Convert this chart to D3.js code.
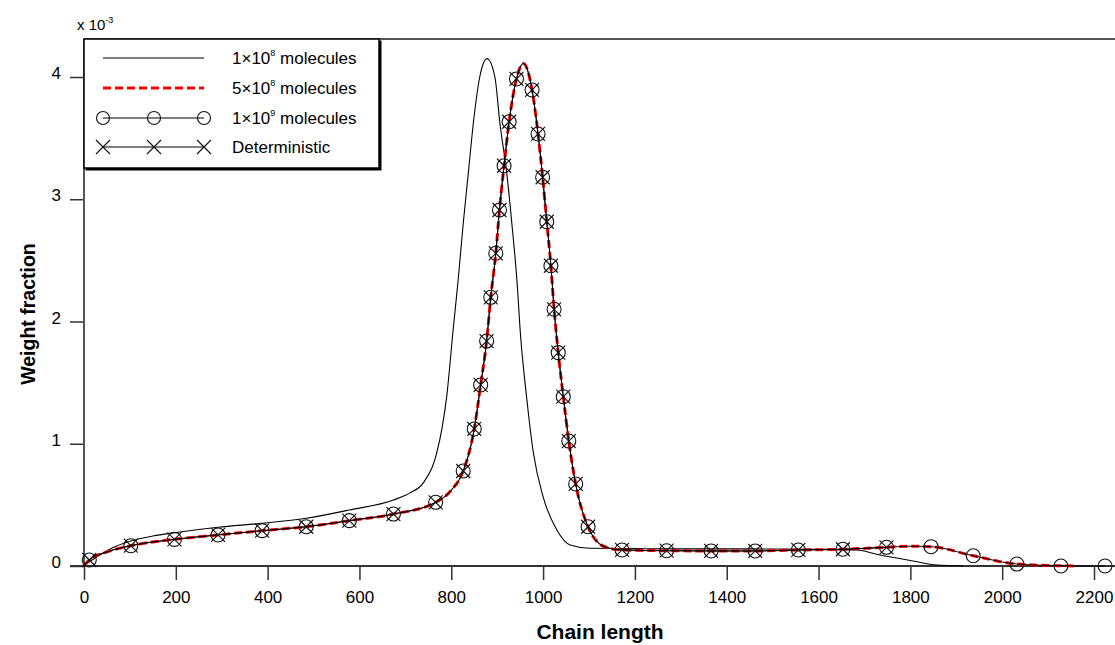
<!DOCTYPE html>
<html>
<head>
<meta charset="utf-8">
<script src="https://cdn.jsdelivr.net/npm/d3@7"></script>
<style>
    body { margin: 0; background: #fff; }
    svg text { font-family: "Liberation Sans", Arial, sans-serif; }
</style>
</head>
<body>
<svg id="chart"></svg>
<script>
// 1x10^8 molecules (thin black line), values in units of 1e-3
const len1e8 = [0, 30, 60, 102, 150, 197, 292, 388, 484, 578, 674, 710, 739, 768, 780, 790, 804, 815, 826, 837, 848, 862, 878, 895, 906, 921, 932, 944, 950, 964, 979, 1000, 1030, 1059, 1102, 1200, 1300, 1400, 1516, 1600, 1683, 1734, 1806, 1857, 1915];
const frac1e8 = [0.005, 0.08, 0.145, 0.205, 0.245, 0.272, 0.317, 0.349, 0.39, 0.458, 0.54, 0.598, 0.68, 0.922, 1.13, 1.385, 1.93, 2.34, 2.80, 3.21, 3.62, 4.00, 4.15, 4.00, 3.62, 3.21, 2.80, 2.285, 1.93, 1.385, 0.922, 0.567, 0.294, 0.172, 0.145, 0.142, 0.14, 0.14, 0.139, 0.137, 0.131, 0.09, 0.041, 0.008, 0];

// curve shared by 5x10^8, 1x10^9 and deterministic
const lenSim = [0, 11.5, 50, 102, 197, 292, 388, 484, 578, 674, 766, 800, 826, 850, 864, 877, 886, 897, 905, 915, 926, 942, 957, 976, 989, 999, 1008, 1017, 1024, 1033, 1044, 1056, 1071, 1098, 1120, 1145, 1172, 1269, 1366, 1462, 1556, 1653, 1748, 1800, 1845, 1937, 2032, 2128, 2160, 2224];
const fracSim = [0.005, 0.049, 0.115, 0.166, 0.218, 0.254, 0.289, 0.321, 0.371, 0.425, 0.521, 0.62, 0.777, 1.121, 1.481, 1.84, 2.198, 2.558, 2.912, 3.274, 3.634, 3.984, 4.11, 3.894, 3.534, 3.18, 2.816, 2.456, 2.1, 1.745, 1.385, 1.022, 0.671, 0.321, 0.19, 0.145, 0.131, 0.125, 0.123, 0.123, 0.131, 0.137, 0.153, 0.162, 0.158, 0.084, 0.016, 0.002, 0, 0];

// marker positions (circles = 1x10^9, crosses = deterministic)
const lenMark = [11.5, 102, 197, 292, 388, 484, 578, 674, 766, 826, 850, 864, 877, 886, 897, 905, 915, 926, 942, 976, 989, 999, 1008, 1017, 1024, 1033, 1044, 1056, 1071, 1098, 1172, 1269, 1366, 1462, 1556, 1653, 1748, 1845, 1937, 2032, 2128, 2224];
const fracMark = [0.049, 0.166, 0.218, 0.254, 0.289, 0.321, 0.371, 0.425, 0.521, 0.777, 1.121, 1.481, 1.84, 2.198, 2.558, 2.912, 3.274, 3.634, 3.984, 3.894, 3.534, 3.18, 2.816, 2.456, 2.1, 1.745, 1.385, 1.022, 0.671, 0.321, 0.131, 0.125, 0.123, 0.123, 0.131, 0.137, 0.153, 0.158, 0.084, 0.016, 0, 0];

const end5e8 = 2160;
const endDet = 1750;

const xTicks = [0, 200, 400, 600, 800, 1000, 1200, 1400, 1600, 1800, 2000, 2200];
const yTicks = [0, 1, 2, 3, 4];

const legendNames = [
    { base: "1×10", sup: "8", rest: " molecules" },
    { base: "5×10", sup: "8", rest: " molecules" },
    { base: "1×10", sup: "9", rest: " molecules" },
    { base: "Deterministic", sup: "", rest: "" }
];

const width = 1115;
const height = 645;
const fontFam = "'Liberation Sans', Arial, sans-serif";

const svg = d3.select("#chart")
    .attr("width", width)
    .attr("height", height);

svg.append("rect").attr("width", width).attr("height", height).attr("fill", "#fff");

// scales
const x = d3.scaleLinear().domain([0, 2200]).range([84, 1094]);
const y = d3.scaleLinear().domain([0, 4]).range([566, 77]);
const yTop = 39;

// top frame line
svg.append("line")
    .attr("x1", x(0)).attr("x2", width)
    .attr("y1", yTop).attr("y2", yTop)
    .attr("stroke", "#555").attr("stroke-width", 2);

// x axis
const xAxis = svg.append("g")
    .attr("transform", `translate(0, ${y(0)})`)
    .call(d3.axisBottom(x).tickValues(xTicks).tickFormat(d => d)
        .tickSize(14).tickPadding(11).tickSizeOuter(0));
xAxis.select(".domain").remove();
xAxis.selectAll(".tick line").attr("stroke", "#333").attr("stroke-width", 1.5);
xAxis.selectAll("text")
    .style("font-size", "17px")
    .style("font-family", fontFam)
    .attr("fill", "#000");

// y axis
const yAxis = svg.append("g")
    .attr("transform", `translate(${x(0)}, 0)`)
    .call(d3.axisLeft(y).tickValues(yTicks).tickFormat(d => d)
        .tickSize(14).tickPadding(9).tickSizeOuter(0));
yAxis.select(".domain").remove();
yAxis.selectAll(".tick line").attr("stroke", "#333").attr("stroke-width", 1.5);
yAxis.selectAll("text")
    .style("font-size", "17px")
    .style("font-family", fontFam)
    .attr("dy", "0.1em")
    .attr("fill", "#000");

svg.append("line")
    .attr("x1", x(0) - 14).attr("x2", width)
    .attr("y1", y(0)).attr("y2", y(0))
    .attr("stroke", "#333").attr("stroke-width", 2);
svg.append("line")
    .attr("x1", x(0)).attr("x2", x(0))
    .attr("y1", yTop).attr("y2", y(0))
    .attr("stroke", "#555").attr("stroke-width", 2);

// axis titles
svg.append("text")
    .attr("x", 600)
    .attr("y", 639)
    .attr("text-anchor", "middle")
    .style("font-size", "21px")
    .style("font-weight", "bold")
    .text("Chain length");

svg.append("text")
    .attr("transform", "translate(35, 314) rotate(-90)")
    .attr("text-anchor", "middle")
    .style("font-size", "19.5px")
    .style("font-weight", "bold")
    .text("Weight fraction");

// exponent label
const expo = svg.append("text")
    .attr("x", 77)
    .attr("y", 30)
    .style("font-size", "15px");
expo.append("tspan").text("x 10");
expo.append("tspan").attr("dy", -7).style("font-size", "9px").text("-3");

// data points
const pts1e8 = len1e8.map((d, i) => ({ x: d, y: frac1e8[i] }));
const ptsSim = lenSim.map((d, i) => ({ x: d, y: fracSim[i] }));
const ptsMark = lenMark.map((d, i) => ({ x: d, y: fracMark[i] }));

const line = d3.line()
    .x(d => x(d.x))
    .y(d => y(d.y))
    .curve(d3.curveMonotoneX);

// 1x10^8
svg.append("path")
    .datum(pts1e8)
    .attr("d", line)
    .attr("fill", "none")
    .attr("stroke", "#000")
    .attr("stroke-width", 1.1);

// 5x10^8 red dashed
svg.append("path")
    .datum(ptsSim.filter(d => d.x <= end5e8))
    .attr("d", line)
    .attr("fill", "none")
    .attr("stroke", "#ff0000")
    .attr("stroke-width", 3)
    .attr("stroke-dasharray", "8,4");

// 1x10^9 and deterministic lines
svg.append("path")
    .datum(ptsSim)
    .attr("d", line)
    .attr("fill", "none")
    .attr("stroke", "#000")
    .attr("stroke-width", 1);

svg.append("path")
    .datum(ptsSim.filter(d => d.x <= endDet))
    .attr("d", line)
    .attr("fill", "none")
    .attr("stroke", "#000")
    .attr("stroke-width", 1);

// circle markers (1x10^9)
svg.append("g")
    .selectAll("circle")
    .data(ptsMark)
    .join("circle")
    .attr("cx", d => x(d.x))
    .attr("cy", d => y(d.y))
    .attr("r", 7)
    .attr("fill", "none")
    .attr("stroke", "#111")
    .attr("stroke-width", 1.1);

// cross markers (deterministic)
const crossPath = (r) => `M${-r},${-r}L${r},${r}M${-r},${r}L${r},${-r}`;
svg.append("g")
    .selectAll("path")
    .data(ptsMark.filter(d => d.x <= endDet))
    .join("path")
    .attr("transform", d => `translate(${x(d.x)}, ${y(d.y)})`)
    .attr("d", crossPath(7))
    .attr("fill", "none")
    .attr("stroke", "#111")
    .attr("stroke-width", 1.1);

// legend
const legend = svg.append("g");
legend.append("rect")
    .attr("x", 85.5).attr("y", 40.5)
    .attr("width", 296).attr("height", 130)
    .attr("fill", "#000");
legend.append("rect")
    .attr("x", 84).attr("y", 39)
    .attr("width", 295).attr("height", 129)
    .attr("fill", "#fff")
    .attr("stroke", "#000")
    .attr("stroke-width", 1.5);

const rowY = [58, 88, 118, 147];
const symX = [103, 154, 204];

legendNames.forEach((n, i) => {
    const ly = rowY[i];
    const ln = legend.append("line")
        .attr("x1", symX[0]).attr("x2", symX[2])
        .attr("y1", ly).attr("y2", ly)
        .attr("stroke", i === 1 ? "#ff0000" : "#000")
        .attr("stroke-width", i === 1 ? 3 : 1.1);
    if (i === 1) ln.attr("stroke-dasharray", "8,4");

    if (i === 2) {
        symX.forEach(sx => legend.append("circle")
            .attr("cx", sx).attr("cy", ly).attr("r", 6.5)
            .attr("fill", "none").attr("stroke", "#111").attr("stroke-width", 1.1));
    }
    if (i === 3) {
        symX.forEach(sx => legend.append("path")
            .attr("transform", `translate(${sx}, ${ly})`)
            .attr("d", crossPath(7))
            .attr("stroke", "#111").attr("stroke-width", 1.1));
    }

    const t = legend.append("text")
        .attr("x", 232)
        .attr("y", ly + 6)
        .style("font-size", "17px");
    t.append("tspan").text(n.base);
    if (n.sup) {
        t.append("tspan").attr("dy", -8).style("font-size", "9px").text(n.sup);
        t.append("tspan").attr("dy", 8).text(n.rest);
    }
});
</script>
</body>
</html>
